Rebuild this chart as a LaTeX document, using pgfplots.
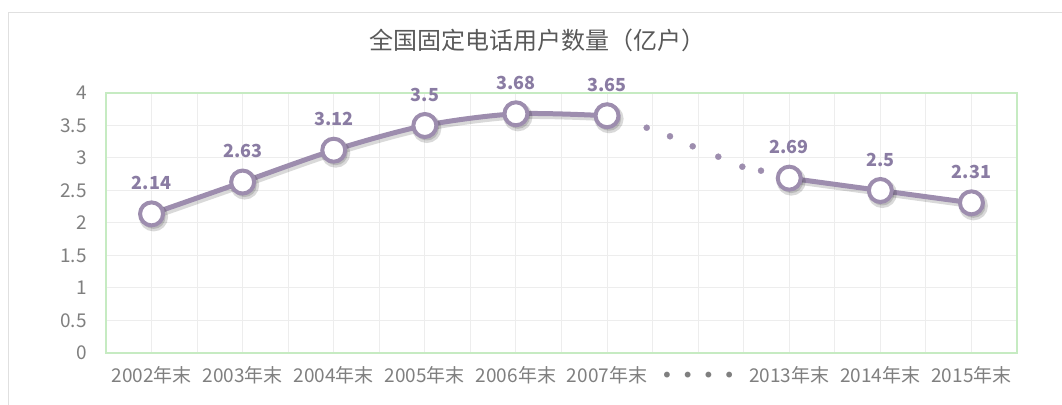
\documentclass[border=0pt]{standalone}
\usepackage{fontspec}
\setmainfont{Noto Sans CJK SC}
\newfontfamily\dv{DejaVu Sans}
\usepackage{pgfplots}
\pgfplotsset{compat=1.18}
\definecolor{lc}{HTML}{9D8DAE}
\definecolor{lab}{HTML}{8A7CA3}
\definecolor{tick}{HTML}{7F7F7F}
\definecolor{ttl}{HTML}{595959}
\definecolor{frm}{HTML}{C6EBC2}
\definecolor{grd}{HTML}{EDEDED}
\begin{document}
\begin{tikzpicture}[x=1pt,y=1pt]
\useasboundingbox (0,0) rectangle (1062,404);
\draw[color=black!12, line width=1.5pt] (1100,391.5) -- (8.5,391.5) -- (8.5,-20);
\node[text=ttl, font=\fontsize{24}{28}\selectfont] at (537.5,364) {全国固定电话用户数量（亿户）};
\begin{axis}[at={(106pt,51pt)}, anchor=south west, scale only axis, width=911pt, height=260pt,
 xmin=-0.5, xmax=9.5, ymin=0, ymax=4,
 xtick={0,...,9},
 xticklabels={2002年末,2003年末,2004年末,2005年末,2006年末,2007年末,{\dv\fontsize{20}{20}\selectfont •\hspace{9pt}•\hspace{9pt}•\hspace{9pt}•},2013年末,2014年末,2015年末},
 minor xtick={-0.5,0.5,...,9.5},
 ytick={0,0.5,...,4},
 yticklabels={0,0.5,1,1.5,2,2.5,3,3.5,4},
 major tick length=0, minor tick length=0,
 xmajorgrids, xminorgrids, ymajorgrids,
 grid style={grd, line width=1pt},
 axis line style={frm, line width=1.5pt},
 tick label style={text=tick, font=\fontsize{19}{22}\selectfont, inner sep=0pt},
 xticklabel style={anchor=base, yshift=-30pt},
 yticklabel style={anchor=east, xshift=-19pt},
 clip=false,
]
% shadows
\addplot[draw=black, opacity=0.15, line width=5pt, smooth, mark=*, mark size=12pt,
  mark options={fill=black, draw=black}, xshift=2pt, yshift=-3pt, forget plot]
  coordinates {(0,2.14) (1,2.63) (2,3.12) (3,3.5) (4,3.68) (5,3.65)};
\addplot[draw=black, opacity=0.15, line width=5pt, smooth, mark=*, mark size=12pt,
  mark options={fill=black, draw=black}, xshift=2pt, yshift=-3pt, forget plot]
  coordinates {(7,2.69) (8,2.5) (9,2.31)};
% main series
\addplot[lc, line width=5pt, smooth, mark=*, mark size=11.5pt,
  mark options={fill=white, draw=lc, line width=4pt},
  nodes near coords, point meta=explicit symbolic,
  nodes near coords style={text=lab, font=\bfseries\fontsize{18}{20}\selectfont, anchor=center, yshift=31pt}]
  coordinates {(0,2.14) [2.14] (1,2.63) [2.63] (2,3.12) [3.12] (3,3.5) [3.5] (4,3.68) [3.68] (5,3.65) [3.65]};
\addplot[lc, line width=5pt, smooth, mark=*, mark size=11.5pt,
  mark options={fill=white, draw=lc, line width=4pt},
  nodes near coords, point meta=explicit symbolic,
  nodes near coords style={text=lab, font=\bfseries\fontsize{18}{20}\selectfont, anchor=center, yshift=31pt}]
  coordinates {(7,2.69) [2.69] (8,2.5) [2.5] (9,2.31) [2.31]};
% gap dots
\addplot[only marks, mark=*, mark size=3pt, color=lc, mark options={fill=lc, draw=none}]
  coordinates {(5.435,3.466) (5.691,3.334) (5.94,3.18) (6.221,3.02) (6.485,2.866) (6.69,2.805)};
\end{axis}
\end{tikzpicture}
\end{document}
